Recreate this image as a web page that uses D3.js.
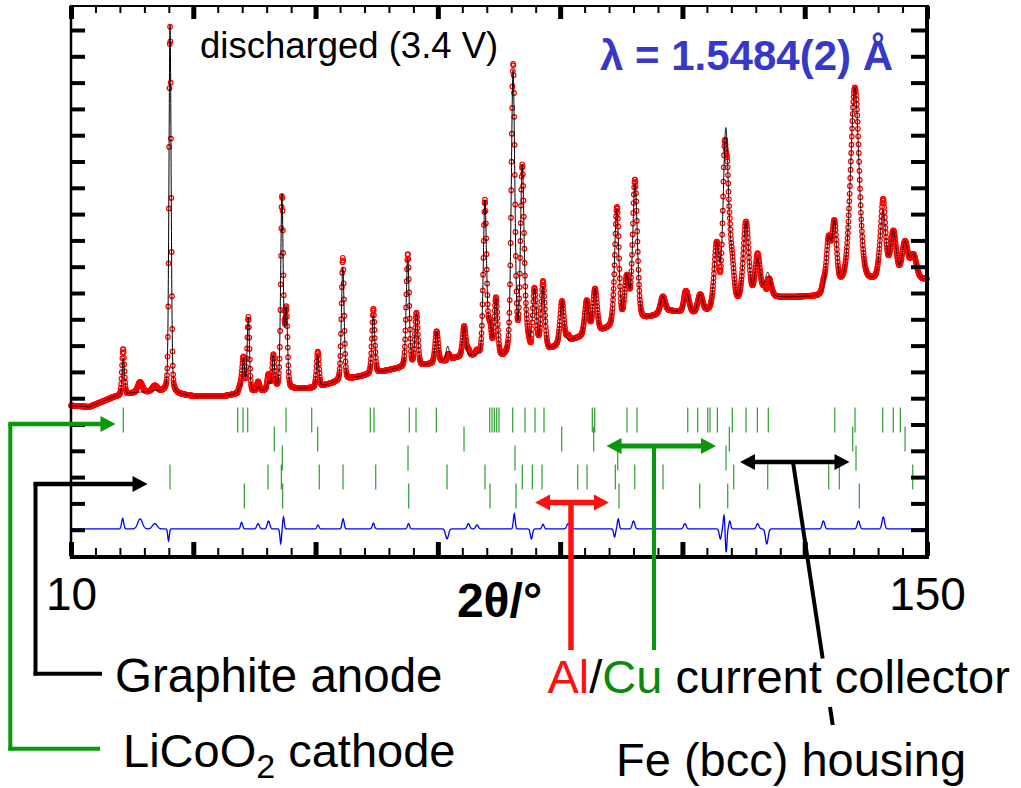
<!DOCTYPE html>
<html><head><meta charset="utf-8">
<script src="https://cdn.jsdelivr.net/npm/d3@7"></script>
<style>
html,body{margin:0;padding:0;background:#fff;}
svg{display:block;font-family:"Liberation Sans",Arial,Helvetica,sans-serif;}
</style></head><body>
<svg id="chart" width="1021" height="788"></svg>
<script>
// ---------------- data ----------------
// background of the pattern (2θ, intensity in axis-tick units)
const bgTheta = [10, 13, 17, 20, 24, 27, 30, 35, 37, 41, 46.5, 50, 53.5, 57, 60, 63, 67, 70, 73, 76, 80.7, 84.5, 88.3, 92, 97, 104, 108, 112, 114, 120, 125, 132, 136, 140, 145, 150];
const bgLevel = [5.72, 5.67, 6.05, 6.20, 6.27, 6.16, 6.08, 6.08, 6.16, 6.27, 6.35, 6.39, 6.62, 6.81, 6.96, 7.11, 7.22, 7.34, 7.53, 7.60, 7.49, 7.91, 7.83, 8.21, 8.56, 9.01, 9.30, 9.18, 9.25, 9.62, 9.81, 9.85, 10.27, 10.38, 10.46, 10.50];

// Bragg peaks of the calculated profile: position (2θ), height above background, FWHM (°)
const peakTheta  = [18.55, 26.2, 37.6, 38.2, 39.0, 40.6, 42.3, 43.1, 44.5, 45.2, 50.35, 54.45, 59.45, 65.07, 66.5, 69.8, 71.6, 74.3, 77.7, 78.5, 79.5, 82.3, 83.8, 84.4, 85.8, 87.2, 90.3, 94.35, 95.7, 99.25, 100.9, 102.25, 106.8, 110.7, 112.9, 115.6, 117.1, 118.1, 120.4, 122.3, 123.95, 133.9, 134.85, 138.2, 142.8, 144.5, 146.4, 147.8];
const peakHeight = [1.4, 14.0, 0.2, 1.28, 2.84, 0.15, 0.28, 1.3, 7.35, 2.95, 1.2, 4.3, 2.25, 4.15, 2.0, 1.2, 0.52, 1.16, 5.9, 1.1, 2.2, 10.7, 6.8, 0.6, 2.2, 2.35, 1.63, 1.3, 1.65, 4.4, 1.68, 5.2, 0.63, 0.72, 0.68, 2.4, 6.7, 1.4, 3.0, 1.5, 0.95, 1.9, 2.4, 7.45, 2.6, 1.8, 1.4, 0.9];
const peakFwhm   = [0.45, 0.42, 0.45, 0.45, 0.45, 0.5, 0.5, 0.48, 0.48, 0.5, 0.5, 0.52, 0.55, 0.58, 0.58, 0.6, 0.6, 0.62, 0.62, 0.62, 0.64, 0.68, 0.68, 0.7, 0.7, 0.72, 0.75, 0.78, 0.8, 0.82, 0.85, 0.9, 0.9, 0.95, 0.95, 0.95, 1.0, 0.8, 1.05, 1.05, 1.1, 0.85, 0.85, 1.6, 1.1, 1.1, 1.15, 1.15];

// observed minus calculated (difference curve features)
const misfitTheta = [18.45, 21.3, 23.7, 25.95, 37.9, 40.6, 42.3, 44.3, 44.75, 50.4, 54.5, 59.45, 65.2, 71.5, 75.0, 76.4, 82.5, 85.3, 87.2, 91.3, 98.9, 99.5, 102.0, 110.4, 116.2, 116.8, 117.15, 117.75, 122.3, 123.8, 133.05, 138.8, 142.85];
const misfitAmp   = [0.4, 0.38, 0.2, -0.45, 0.25, 0.2, 0.3, -0.55, 0.45, 0.15, 0.38, 0.22, 0.2, -0.38, 0.2, 0.15, 0.57, -0.38, 0.18, 0.2, -0.3, 0.38, 0.3, 0.2, -0.38, 0.53, -0.9, 0.3, 0.2, -0.57, 0.3, 0.3, 0.45];
const misfitFwhm  = [0.4, 0.9, 0.9, 0.3, 0.4, 0.5, 0.5, 0.3, 0.3, 0.4, 0.4, 0.4, 0.4, 0.55, 0.5, 0.5, 0.35, 0.4, 0.4, 0.5, 0.35, 0.35, 0.5, 0.5, 0.4, 0.3, 0.3, 0.35, 0.5, 0.5, 0.5, 0.5, 0.5];

// reflection markers (2θ) for each phase, top row to bottom row
const tickLiCoO2   = [18.55, 37.27, 38.13, 38.90, 45.17, 49.37, 58.95, 59.56, 65.33, 66.43, 69.75, 78.48, 78.86, 79.24, 79.63, 80.0, 82.24, 84.26, 85.89, 87.36, 95.26, 95.66, 100.94, 102.57, 110.87, 112.50, 114.14, 114.51, 115.71, 118.16, 120.40, 122.25, 124.05, 134.91, 138.23, 142.76, 144.49, 145.64];
const tickCu       = [43.25, 50.35, 74.28, 90.26, 95.49, 117.67, 137.85, 146.41];
const tickFe       = [44.56, 65.12, 82.62, 99.42, 117.13, 138.39];
const tickGraphite = [26.19, 42.22, 44.40, 50.61, 54.49, 59.84, 71.50, 77.71, 83.81, 85.45, 87.04, 92.88, 94.40, 99.03, 102.20, 106.83, 118.39, 123.95, 133.93, 135.66, 147.67];
const tickAl       = [38.35, 44.62, 65.23, 78.53, 82.78, 99.63, 112.83, 117.41, 138.93];

// axes
const xMajorTicks = [10, 30, 50, 70, 90, 110, 130, 150];
const xMinorTicks = [14, 18, 22, 26, 34, 38, 42, 46, 54, 58, 62, 66, 74, 78, 82, 86, 94, 98, 102, 106, 114, 118, 122, 126, 134, 138, 142, 146];
const xLabelTicks = [10, 150];
const yTicks = [1, 2, 3, 4, 5, 6, 7, 8, 9, 10, 11, 12, 13, 14, 15, 16, 17, 18, 19, 20];
const diffOffset = 1.03;    // baseline of the difference curve
const sampleStep = 0.05;    // measurement step (°)

// ---------------- drawing ----------------
const svg = d3.select("#chart");
const FONT = '"Liberation Sans",Arial,Helvetica,sans-serif';
const L = 71, R = 927, T = 6, B = 556;
const x = d3.scaleLinear().domain([10, 150]).range([L, R]);
const y = d3.scaleLinear().domain([0, 20.913]).range([B, T]);
const bg = d3.scaleLinear().domain(bgTheta).range(bgLevel);

function pv(dx, w) {
  const r = 4 * dx * dx / (w * w);
  return 0.25 / (1 + r) + 0.75 * Math.exp(-Math.LN2 * r);
}
function calc(t) {
  let s = bg(t);
  for (let i = 0; i < peakTheta.length; i++) {
    const dx = t - peakTheta[i];
    if (Math.abs(dx) < 15 * peakFwhm[i]) s += peakHeight[i] * pv(dx, peakFwhm[i]);
  }
  return s;
}
function misfit(t) {
  let s = 0;
  for (let i = 0; i < misfitTheta.length; i++) {
    const dx = t - misfitTheta[i], w = misfitFwhm[i];
    s += misfitAmp[i] * Math.exp(-4 * Math.LN2 * dx * dx / (w * w));
  }
  return s;
}

const grid = d3.range(10, 150 + 1e-9, sampleStep);
const fineGrid = d3.range(10, 150 + 1e-9, 0.01);
const obs = grid.map(t => ({t, v: calc(t) + misfit(t)}));
const calcPts = fineGrid.map(t => ({t, v: calc(t)}));
const diffPts = grid.map(t => ({t, v: diffOffset + misfit(t)}));

// observed points
svg.append("g").selectAll("circle").data(obs).join("circle")
  .attr("cx", d => x(d.t)).attr("cy", d => y(d.v)).attr("r", 2.3)
  .attr("fill", "none").attr("stroke", "#ff0000").attr("stroke-width", 1.2);

// calculated
svg.append("path").datum(calcPts)
  .attr("d", d3.line().x(d => x(d.t)).y(d => y(d.v)))
  .attr("fill", "none").attr("stroke", "#000").attr("stroke-width", 1);

// difference
svg.append("path").datum(diffPts)
  .attr("d", d3.line().x(d => x(d.t)).y(d => y(d.v)))
  .attr("fill", "none").attr("stroke", "#0000ff").attr("stroke-width", 1.3);

// reflection markers
const phases = [tickLiCoO2, tickCu, tickFe, tickGraphite, tickAl];
const rowTop0 = 407.5, rowGap = 19, tickLen = 25;
phases.forEach((arr, i) => {
  svg.append("g").selectAll("line").data(arr).join("line")
    .attr("x1", d => x(d)).attr("x2", d => x(d))
    .attr("y1", rowTop0 + i * rowGap).attr("y2", rowTop0 + i * rowGap + tickLen)
    .attr("stroke", "#0b8b0b").attr("stroke-width", 1.2).attr("stroke-opacity", 0.85);
});

// ---------------- axes ----------------
function styleTicks(g, w) {
  g.select(".domain").remove();
  g.selectAll(".tick line").attr("stroke", "#000").attr("stroke-width", w);
  g.selectAll(".tick text").remove();
}
svg.append("g").attr("transform", `translate(0,${T})`)
  .call(d3.axisTop(x).tickValues(xMinorTicks).tickSize(-7)).call(g => styleTicks(g, 2));
svg.append("g").attr("transform", `translate(0,${T})`)
  .call(d3.axisTop(x).tickValues(xMajorTicks).tickSize(-13)).call(g => styleTicks(g, 5));
svg.append("g").attr("transform", `translate(0,${B})`)
  .call(d3.axisBottom(x).tickValues(xMinorTicks).tickSize(-8)).call(g => styleTicks(g, 2));
svg.append("g").attr("transform", `translate(0,${B})`)
  .call(d3.axisBottom(x).tickValues(xMajorTicks).tickSize(-14)).call(g => styleTicks(g, 5));
svg.append("g").attr("transform", `translate(${L},0)`)
  .call(d3.axisLeft(y).tickValues(yTicks).tickSize(-14)).call(g => styleTicks(g, 4));
svg.append("g").attr("transform", `translate(${R},0)`)
  .call(d3.axisRight(y).tickValues(yTicks).tickSize(-16)).call(g => styleTicks(g, 4));

// frame
svg.append("line").attr("x1", L).attr("x2", R).attr("y1", T).attr("y2", T).attr("stroke", "#000").attr("stroke-width", 2);
svg.append("line").attr("x1", L).attr("x2", L).attr("y1", T - 1).attr("y2", B + 2).attr("stroke", "#000").attr("stroke-width", 2.5);
svg.append("line").attr("x1", R).attr("x2", R).attr("y1", T - 1).attr("y2", B + 3).attr("stroke", "#000").attr("stroke-width", 4);
svg.append("line").attr("x1", L - 1).attr("x2", R + 2).attr("y1", B + 1).attr("y2", B + 1).attr("stroke", "#000").attr("stroke-width", 4);

// x tick labels
const xl = svg.append("g").attr("transform", `translate(0,${B})`)
  .call(d3.axisBottom(x).tickValues(xLabelTicks).tickSize(0).tickPadding(21));
xl.select(".domain").remove();
xl.selectAll("text").attr("font-size", 46).attr("font-family", FONT).attr("fill", "#000");

// axis title
svg.append("text").attr("x", 499.5).attr("y", 617).attr("text-anchor", "middle")
  .attr("font-size", 48).attr("font-weight", "bold").attr("font-family", FONT).text("2θ/°");

// in-plot texts
svg.append("text").attr("x", 200).attr("y", 58).attr("font-size", 36.5).attr("font-family", FONT).text("discharged (3.4 V)");
svg.append("text").attr("x", 600).attr("y", 70).attr("font-size", 42).attr("font-weight", "bold")
  .attr("font-family", FONT).attr("fill", "#3838c8").text("λ = 1.5484(2) Å");

// ---------------- annotations ----------------
const GREEN = "#089808", RED = "#ff1010";
function arrow(x1, x2, yy, color, w, both) {
  const hl = 15, hw = 8;
  svg.append("line").attr("x1", both ? x1 + hl - 1 : x1).attr("x2", x2 - hl + 1)
    .attr("y1", yy).attr("y2", yy).attr("stroke", color).attr("stroke-width", w);
  svg.append("path").attr("d", `M${x2},${yy}L${x2 - hl},${yy - hw}L${x2 - hl},${yy + hw}Z`).attr("fill", color);
  if (both) svg.append("path").attr("d", `M${x1},${yy}L${x1 + hl},${yy - hw}L${x1 + hl},${yy + hw}Z`).attr("fill", color);
}
function seg(x1, y1, x2, y2, color, w) {
  svg.append("line").attr("x1", x1).attr("y1", y1).attr("x2", x2).attr("y2", y2)
    .attr("stroke", color).attr("stroke-width", w);
}

// LiCoO2 cathode (green)
seg(10.3, 424, 10.3, 750.5, GREEN, 4);
seg(8.3, 748.8, 100, 748.8, GREEN, 4);
arrow(8.3, 115.5, 424, GREEN, 4.5, false);

// Graphite anode (black)
seg(35.5, 484, 35.5, 675.5, "#000", 4);
seg(33.5, 673.7, 102, 673.7, "#000", 4);
arrow(33.5, 147.5, 484, "#000", 4.5, false);

// Al current collector (red)
arrow(535, 609, 502.5, RED, 5.5, true);
seg(571, 502.5, 571, 650, RED, 5.5);

// Cu current collector (green)
arrow(606.5, 716, 446, GREEN, 5, true);
seg(654, 446, 654, 650, GREEN, 4);

// Fe housing (black)
arrow(740, 849.5, 462, "#000", 4.7, true);
const feX = yy => 793 + (yy - 462) * 0.151;
seg(feX(462), 462, feX(658.5), 658.5, "#000", 4);
seg(feX(707), 707, feX(725), 725, "#000", 4);

// labels below the chart
svg.append("text").attr("x", 115).attr("y", 692).attr("font-size", 47.5).attr("font-family", FONT).text("Graphite anode");

const lc = svg.append("text").attr("x", 123).attr("y", 767).attr("font-size", 47).attr("font-family", FONT);
lc.append("tspan").text("LiCoO");
lc.append("tspan").attr("font-size", 34).attr("dy", 11).text("2");
lc.append("tspan").attr("dy", -11).text(" cathode");

const ac = svg.append("text").attr("x", 547.5).attr("y", 693).attr("font-size", 47).attr("font-family", FONT);
ac.append("tspan").attr("fill", RED).text("Al");
ac.append("tspan").attr("fill", "#000").text("/");
ac.append("tspan").attr("fill", "#0a8a0a").text("Cu");
ac.append("tspan").attr("fill", "#000").text(" current collector");

svg.append("text").attr("x", 616).attr("y", 776).attr("font-size", 47).attr("font-family", FONT).text("Fe (bcc) housing");
</script>
</body></html>
